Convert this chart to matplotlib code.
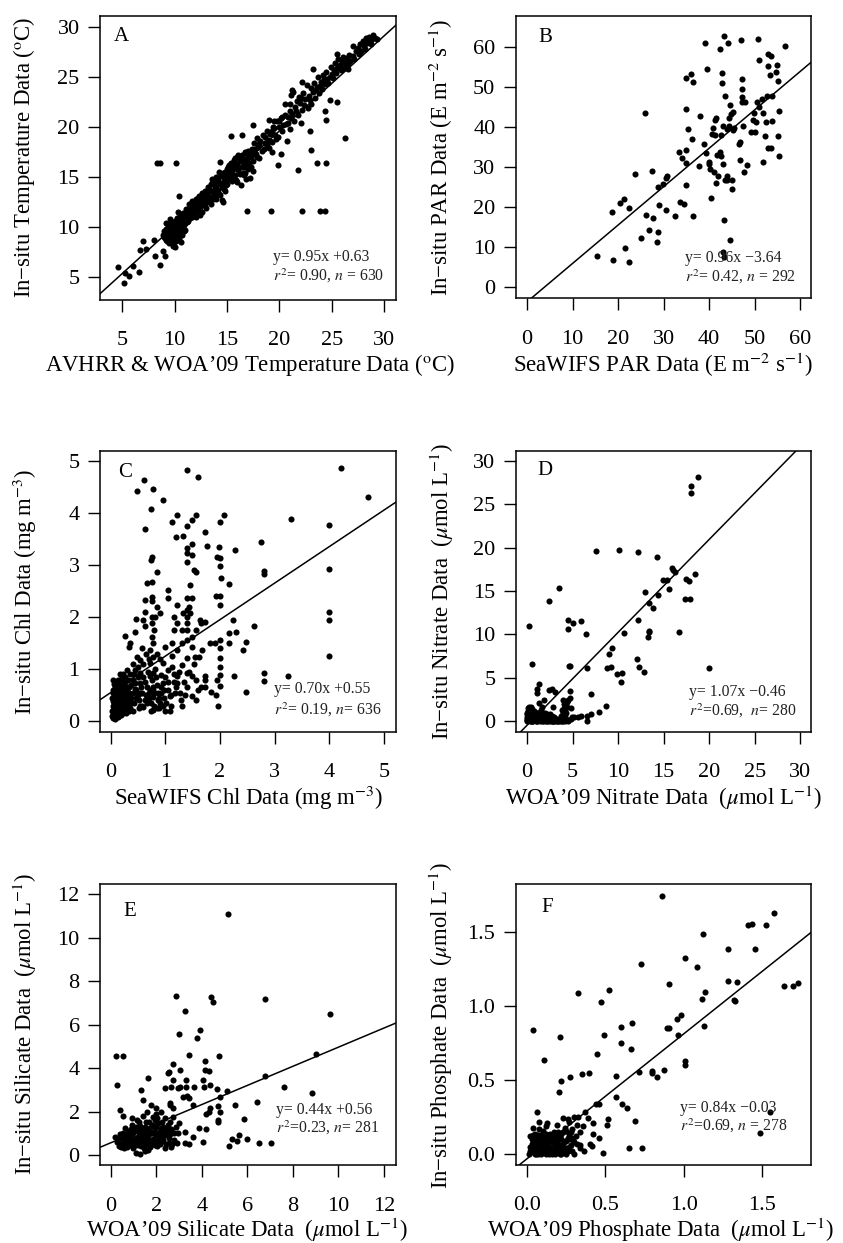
import matplotlib
matplotlib.use("Agg")
import matplotlib.pyplot as plt
import numpy as np

plt.rcParams['font.family'] = ['Liberation Serif', 'DejaVu Serif']
plt.rcParams['mathtext.fontset'] = 'stix'

# ---------------- data ----------------
# A: temperature, (satellite/WOA, in-situ)
temp_pts = [
    (4.6, 6.07), (5.2, 4.4), (5.25, 5.4), (5.6, 5.1), (6.05, 6.1), (6.6, 5.5), (6.7, 7.7),
    (7.0, 8.6), (7.3, 7.8), (8.0, 8.7), (8.15, 7.1), (8.6, 6.2), (8.3, 16.4), (8.6, 16.4),
    (10.1, 16.4), (10.4, 13.1), (8.85, 7.6), (9.1, 7.1), (16.9, 11.6), (19.2, 11.6),
    (22.2, 11.6), (23.9, 11.6), (24.4, 11.6), (21.8, 15.7), (19.9, 16.2), (23.6, 16.4),
    (24.5, 16.4), (23.0, 17.7), (26.3, 18.9), (24.5, 20.7), (24.4, 21.6), (24.8, 22.7),
    (25.5, 22.5), (22.9, 19.6), (22.1, 20.4), (20.2, 17.3), (19.3, 17.5), (17.5, 20.2),
    (15.4, 19.1), (16.4, 19.2), (19.0, 20.7), (19.5, 20.6), (23.25, 25.8), (22.2, 24.5),
    (21.2, 23.7), (21.1, 23.2), (25.5, 27.3), (27.0, 28.1), (26.6, 25.8),
    (8.9, 9.2), (9.0, 9.6), (9.1, 8.9), (9.2, 9.8), (9.3, 9.3), (9.3, 8.6), (9.4, 10.2),
    (9.5, 9.0), (9.5, 8.4), (9.6, 9.7), (9.7, 8.9), (9.7, 10.4), (9.8, 8.1), (9.8, 9.4),
    (9.9, 10.0), (10.0, 8.0), (10.0, 9.2), (10.0, 10.6), (10.1, 8.6), (10.2, 9.8),
    (10.2, 10.9), (10.3, 9.1), (10.4, 10.3), (10.4, 8.8), (10.5, 11.1), (10.5, 9.6),
    (10.6, 10.0), (10.7, 10.7), (10.7, 9.2), (10.8, 11.4), (10.9, 10.2), (11.0, 9.7),
    (11.0, 11.0), (9.2, 10.4), (9.6, 10.8), (10.3, 11.5), (9.9, 9.1), (10.6, 8.5),
    (11.1, 11.8), (11.2, 10.5), (11.3, 11.2), (11.4, 12.3), (11.5, 10.9), (11.6, 11.6),
    (11.7, 12.6), (11.8, 11.3), (11.9, 12.0), (12.0, 12.8), (12.0, 11.0), (12.1, 12.3),
    (12.2, 11.7), (12.3, 13.1), (12.4, 12.0), (12.5, 12.6), (12.6, 13.4), (12.6, 11.5),
    (12.7, 12.9), (12.8, 12.2), (12.9, 13.6), (13.0, 12.7), (13.0, 11.9), (13.1, 13.2),
    (11.5, 12.0), (12.2, 12.9), (11.9, 11.5), (12.8, 13.0),
    (13.2, 14.0), (13.3, 12.6), (13.4, 13.6), (13.5, 14.3), (13.5, 12.3), (13.6, 13.0),
    (13.7, 14.6), (13.8, 13.4), (13.9, 14.0), (14.0, 15.0), (14.0, 12.8), (14.1, 13.7),
    (14.2, 14.4), (14.3, 16.5), (14.3, 13.2), (14.4, 15.1), (14.5, 14.0), (14.6, 12.5),
    (14.6, 15.4), (14.7, 14.6), (14.8, 13.6), (14.9, 15.2), (15.0, 14.3), (15.0, 15.8),
    (13.6, 14.8), (14.2, 15.5), (13.9, 13.1), (14.5, 12.7), (14.8, 14.9),
    (15.1, 16.0), (15.2, 14.8), (15.3, 15.5), (15.4, 16.4), (15.5, 14.6), (15.6, 15.9),
    (15.7, 16.7), (15.8, 15.2), (15.9, 16.3), (16.0, 17.0), (16.0, 14.5), (16.1, 15.7),
    (16.2, 16.6), (16.3, 14.2), (16.4, 17.2), (16.5, 15.4), (16.6, 16.0), (16.7, 17.5),
    (16.8, 14.8), (16.9, 16.8), (17.0, 17.6), (17.0, 15.8), (17.1, 16.4), (17.2, 14.9),
    (17.3, 17.0), (15.5, 15.3), (16.3, 16.9), (16.7, 15.4), (17.5, 15.6), (15.8, 16.9),
    (17.4, 17.8), (17.5, 16.6), (17.6, 18.4), (17.8, 17.3), (17.9, 18.9), (18.0, 18.0),
    (18.1, 16.9), (18.2, 18.6), (18.4, 19.2), (18.5, 17.8), (18.6, 18.4), (18.8, 19.6),
    (18.9, 18.7), (19.0, 17.9), (19.1, 19.3),
    (19.3, 18.5), (19.4, 20.0), (19.6, 19.2), (19.8, 20.6), (19.9, 19.0), (20.0, 20.0),
    (20.2, 20.9), (20.3, 19.6), (20.5, 21.2), (20.6, 20.3), (20.7, 18.6), (20.8, 21.0),
    (21.0, 19.8), (21.0, 22.3), (20.3, 21.0), (20.5, 22.3), (21.0, 21.6),
    (21.2, 21.3), (21.3, 23.5), (21.4, 20.6), (21.5, 22.0), (21.7, 22.6), (21.8, 21.2),
    (21.9, 23.0), (22.0, 22.4), (22.2, 21.7), (22.3, 23.4), (22.5, 22.8), (22.6, 24.2),
    (22.7, 21.9), (22.8, 23.1), (23.0, 23.9), (23.0, 22.3),
    (23.2, 23.5), (23.3, 24.4), (23.4, 22.9), (23.6, 24.0), (23.7, 25.0), (23.8, 23.4),
    (24.0, 24.5), (24.1, 23.8), (24.2, 25.2), (24.4, 24.3), (24.5, 25.5), (24.6, 24.8),
    (24.8, 25.0), (24.9, 26.0), (25.0, 25.3),
    (25.2, 25.7), (25.3, 26.4), (25.5, 25.9), (25.6, 26.8), (25.8, 26.2), (26.0, 26.6),
    (26.1, 27.0), (26.3, 26.4), (26.5, 26.9), (26.7, 27.2), (26.8, 26.6), (27.0, 27.1),
    (27.3, 27.6), (27.5, 27.9), (27.7, 28.3), (27.8, 27.6), (28.0, 28.6), (28.1, 28.1),
    (28.3, 28.9), (28.4, 28.4), (28.6, 29.0), (28.7, 28.6), (28.9, 28.8), (29.1, 28.9),
    (29.3, 28.8),
    (9.0, 9.0), (9.1, 9.5), (9.2, 8.7), (9.4, 9.5), (9.5, 10.0), (9.6, 8.6), (9.7, 9.3),
    (9.8, 10.1), (9.9, 8.5), (10.0, 9.6), (10.1, 10.3), (10.2, 9.3), (10.3, 10.0),
    (10.4, 9.5), (10.5, 10.5), (10.6, 9.4), (10.7, 10.2), (10.8, 10.8), (10.9, 9.6),
    (11.0, 10.4), (11.1, 11.2), (11.2, 11.6), (11.3, 10.6), (11.4, 11.5), (11.6, 12.1),
    (11.7, 11.0), (11.8, 12.2), (12.0, 11.6), (12.1, 12.7), (12.3, 12.4), (12.4, 11.2),
    (12.5, 13.0), (12.7, 12.4), (12.9, 12.4), (13.0, 13.4), (13.1, 12.5), (13.3, 13.8),
    (13.4, 13.0), (13.6, 13.6), (13.7, 12.8), (13.8, 14.3), (14.0, 13.9), (14.1, 14.7),
    (14.2, 13.3), (14.4, 14.3), (14.5, 15.2), (14.7, 13.8), (14.8, 15.5), (14.9, 14.2),
    (15.1, 15.3), (15.2, 16.2), (15.3, 14.9), (15.4, 15.8), (15.6, 14.9), (15.6, 16.4),
    (15.8, 16.0), (15.9, 14.7), (16.0, 16.3), (16.1, 17.2), (16.2, 15.3), (16.4, 16.0),
    (16.5, 16.8), (16.6, 15.2), (16.7, 16.4), (16.9, 17.3), (17.0, 16.2), (17.2, 17.4),
    (17.3, 16.0), (17.5, 17.3), (17.7, 17.8), (17.9, 17.0), (18.1, 18.3), (18.3, 17.6),
    (18.6, 19.0), (18.8, 18.2), (19.1, 18.6), (19.3, 19.6), (19.5, 19.9), (19.7, 18.8),
    (20.0, 20.6), (20.4, 20.2), (20.8, 20.4), (21.1, 20.9), (21.6, 21.6), (22.1, 22.9),
    (22.4, 22.2), (22.9, 22.7), (23.5, 23.7), (23.9, 24.1), (24.3, 24.8), (24.7, 24.4),
    (25.1, 24.9), (25.4, 25.4), (25.9, 25.7), (26.2, 25.9), (26.6, 26.3), (27.1, 26.8),
    (27.6, 27.3), (28.2, 27.8), (28.8, 28.3), (29.0, 29.2),
]

# B: PAR
par_pts = [
    (15.3, 7.8), (18.6, 18.7), (18.8, 6.8), (20.4, 21.0), (21.4, 22.1), (21.6, 9.75),
    (22.5, 19.75), (22.4, 6.2), (23.8, 28.3), (25.1, 12.25), (26.0, 43.6), (26.1, 18.1),
    (26.8, 14.3), (27.4, 29.1), (27.7, 17.25), (28.7, 25.0), (28.7, 13.75), (28.6, 11.2),
    (29.0, 20.6), (29.9, 25.8), (30.5, 27.25), (30.7, 27.9), (30.6, 19.3), (32.6, 17.7),
    (33.4, 33.75), (34.0, 32.25), (33.7, 21.3), (34.4, 20.8), (34.8, 31.1), (35.0, 34.2),
    (34.9, 25.6), (34.9, 52.3), (34.9, 44.6), (35.4, 39.6), (36.0, 53.4), (36.4, 51.4),
    (36.2, 37.1), (36.5, 17.8), (37.8, 30.25), (37.9, 42.75), (38.8, 35.7), (39.1, 61.1),
    (39.4, 33.5), (39.6, 54.6), (39.9, 31.4), (40.1, 29.6), (39.9, 30.8), (40.4, 22.4),
    (40.7, 38.2), (40.9, 39.8), (41.2, 38.1), (41.3, 41.9), (41.5, 42.25), (41.4, 26.0),
    (41.1, 28.9), (41.8, 33.1), (42.0, 27.9), (42.3, 33.7), (42.4, 59.6), (42.6, 32.75),
    (42.8, 53.5), (42.9, 51.0), (42.7, 38.1), (43.0, 40.4), (43.0, 8.75), (43.1, 30.7),
    (43.3, 62.8), (43.3, 16.7), (43.5, 26.8), (43.5, 47.7), (43.8, 39.5), (43.8, 27.9),
    (43.9, 26.8), (44.2, 61.1), (44.4, 42.4), (44.4, 40.4), (44.5, 11.8), (44.6, 45.5),
    (44.8, 43.25), (44.9, 24.5), (45.0, 26.75), (45.2, 43.7), (45.3, 39.3), (45.4, 39.8),
    (46.6, 35.75), (46.8, 36.4), (46.7, 31.8), (46.9, 61.7), (47.1, 47.6), (47.3, 52.1),
    (47.3, 49.5), (47.3, 46.3), (47.5, 40.3), (47.6, 28.75), (47.8, 46.4), (48.2, 30.6),
    (49.1, 38.7), (49.7, 41.8), (49.8, 43.5), (50.1, 38.75), (50.3, 41.4), (50.6, 46.4),
    (50.8, 62.1), (51.0, 56.75), (51.0, 45.0), (51.5, 47.1), (51.9, 31.2), (51.9, 43.5),
    (52.2, 37.8), (52.4, 41.4), (52.8, 47.7), (53.0, 55.2), (53.0, 58.25), (53.0, 34.9),
    (53.3, 53.0), (53.5, 57.7), (53.5, 34.75), (53.7, 41.6), (53.8, 47.7), (54.6, 53.75),
    (54.8, 55.5), (55.2, 51.6), (55.2, 37.8), (55.3, 44.1), (55.4, 32.7), (56.6, 60.2),
    (43.2, 7.6),
]

# C: chlorophyll
chl_pts = [
    (0.49, 4.42), (0.61, 4.63), (0.78, 4.46), (0.96, 4.25), (0.73, 4.07), (0.62, 3.69),
    (1.40, 4.82), (1.59, 4.69), (1.13, 3.82), (1.22, 3.96), (1.39, 3.75), (1.48, 3.86),
    (1.56, 3.96), (1.20, 3.54), (1.33, 3.55), (1.73, 3.63), (1.77, 3.36), (1.39, 3.32),
    (1.39, 3.22), (1.48, 3.41), (1.39, 3.06), (1.48, 3.19), (1.52, 2.9), (1.56, 2.87),
    (1.46, 2.62), (1.99, 3.35), (2.0, 3.13), (2.0, 2.97), (2.02, 2.74), (1.94, 3.15),
    (2.07, 3.95), (2.0, 3.82), (2.27, 3.28), (2.17, 2.63), (1.93, 2.41), (2.0, 2.41),
    (2.0, 2.24), (2.24, 1.94), (2.17, 1.69), (2.30, 1.72), (2.16, 1.5), (2.48, 1.53),
    (2.43, 1.37), (2.62, 1.83), (2.75, 3.43), (2.80, 2.89), (2.80, 2.83), (2.80, 0.93),
    (2.80, 0.78), (3.30, 3.88), (3.24, 0.86), (4.0, 3.77), (4.0, 2.92), (4.0, 2.10),
    (4.0, 1.94), (4.0, 1.26), (4.22, 4.85), (4.71, 4.31), (2.48, 0.57), (2.26, 0.87),
    (1.97, 0.29), (2.01, 0.68), (1.94, 0.79), (1.93, 0.51), (1.84, 0.57), (2.0, 0.88),
    (2.0, 1.05), (2.0, 1.21), (2.0, 1.4), (2.0, 1.56), (1.91, 1.51), (1.82, 1.5),
    (1.73, 0.87), (1.73, 0.79), (1.73, 0.66), (1.66, 0.66), (1.57, 0.79), (1.57, 0.41),
    (1.48, 0.49), (1.48, 0.86), (1.55, 1.24), (1.62, 1.24), (1.67, 1.37), (1.66, 1.88),
    (1.63, 1.94), (1.73, 1.91), (1.57, 1.75), (1.48, 1.43), (1.48, 1.62), (1.46, 2.07),
    (1.44, 2.2), (1.48, 2.36), (1.39, 2.36), (1.39, 2.14), (1.39, 2.0), (1.39, 1.88),
    (1.39, 1.75), (1.39, 1.56), (1.39, 1.21), (1.39, 0.92), (1.39, 0.66), (1.32, 2.07),
    (1.30, 1.75), (1.30, 1.5), (1.30, 1.08), (1.21, 2.23), (1.21, 1.88), (1.21, 1.37),
    (1.21, 0.86), (1.21, 0.73), (1.15, 2.0), (1.15, 1.75), (1.13, 1.5), (1.13, 1.05),
    (1.15, 0.76), (1.05, 2.36), (1.05, 2.52), (1.05, 0.98), (1.05, 0.6), (1.02, 0.35),
    (1.09, 0.19), (0.99, 1.43), (0.96, 1.11), (0.96, 0.73), (0.93, 0.54), (0.87, 0.41),
    (0.90, 2.07), (0.84, 2.2), (0.84, 2.86), (0.81, 2.0), (0.80, 1.75), (0.78, 1.5),
    (0.78, 1.24), (0.78, 0.92), (0.78, 0.66), (0.78, 0.47), (0.78, 0.22), (0.75, 3.16),
    (0.73, 3.09), (0.75, 2.68), (0.75, 2.38), (0.75, 2.3), (0.75, 2.0), (0.75, 1.88),
    (0.75, 1.62), (0.72, 1.37), (0.72, 1.11), (0.72, 0.86), (0.72, 0.6), (0.69, 0.41),
    (0.66, 2.65), (0.63, 2.33), (0.63, 2.1), (0.63, 1.82), (0.60, 1.94), (0.57, 1.4),
    (0.54, 1.18), (0.54, 0.92), (0.54, 0.73), (0.54, 0.54), (0.46, 1.96), (0.45, 1.71),
    (0.48, 1.24), (0.45, 0.98), (0.45, 0.73), (0.41, 0.54), (0.38, 0.35), (0.35, 1.5),
    (0.34, 1.42), (0.27, 1.64), (0.29, 0.98), (0.32, 0.79), (0.29, 0.6), (0.29, 0.41),
    (0.26, 0.22), (0.20, 0.86), (0.22, 0.66), (0.20, 0.47), (0.22, 0.28), (0.14, 0.79),
    (0.14, 0.6), (0.14, 0.41), (0.14, 0.22), (0.14, 0.09), (0.08, 0.66), (0.08, 0.47),
    (0.08, 0.28), (0.08, 0.12), (0.05, 0.06), (0.05, 0.54), (0.05, 0.38), (0.05, 0.22),
    (0.11, 0.35), (0.11, 0.19), (0.17, 0.35), (0.17, 0.12), (0.23, 0.41), (0.23, 0.15),
    (0.35, 0.22), (0.41, 0.19), (0.51, 0.25), (0.60, 0.28), (0.66, 0.35), (0.84, 0.25),
    (0.90, 0.35), (0.03, 0.1), (0.04, 0.3), (0.06, 0.45), (0.07, 0.2), (0.09, 0.55),
    (0.10, 0.08), (0.12, 0.5), (0.13, 0.3), (0.15, 0.7), (0.16, 0.18), (0.18, 0.55),
    (0.19, 0.25), (0.21, 0.78), (0.24, 0.55), (0.25, 0.35), (0.27, 0.85), (0.30, 0.3),
    (0.31, 0.5), (0.33, 0.65), (0.36, 0.9), (0.37, 0.45), (0.40, 0.8), (0.42, 0.35),
    (0.44, 0.62), (0.47, 0.45), (0.50, 0.85), (0.52, 0.4), (0.56, 0.65), (0.58, 0.3),
    (0.62, 0.75), (0.65, 0.5), (0.68, 0.95), (0.70, 0.55), (0.74, 0.35), (0.76, 0.8),
    (0.80, 0.55), (0.82, 1.0), (0.85, 0.7), (0.88, 0.45), (0.92, 0.88), (0.95, 0.3),
    (0.98, 0.6), (1.00, 0.85), (1.08, 0.48), (1.11, 0.3), (1.18, 0.55), (1.25, 0.95),
    (1.28, 0.4), (1.35, 0.75), (1.44, 0.95), (1.52, 1.1), (1.6, 0.6), (1.12, 1.25),
    (0.06, 0.15), (0.09, 0.38), (0.12, 0.62), (0.16, 0.45), (0.19, 0.12), (0.28, 0.15),
    (0.33, 0.2), (0.03, 0.45), (0.07, 0.72), (0.1, 0.25), (0.18, 0.9), (0.25, 0.62),
    (0.03, 0.2), (0.04, 0.6), (0.05, 0.8), (0.06, 0.35), (0.07, 0.55), (0.08, 0.05),
    (0.09, 0.7), (0.1, 0.45), (0.11, 0.6), (0.12, 0.15), (0.13, 0.75), (0.14, 0.5),
    (0.15, 0.3), (0.16, 0.6), (0.17, 0.8), (0.18, 0.4), (0.19, 0.65), (0.2, 0.2),
    (0.21, 0.5), (0.22, 0.9), (0.23, 0.7), (0.24, 0.3), (0.25, 0.5), (0.26, 0.75),
    (0.28, 0.45), (0.3, 0.65), (0.32, 0.35), (0.34, 0.55), (0.36, 0.25), (0.38, 0.7),
    (0.04, 0.12), (0.06, 0.25), (0.08, 0.4), (0.1, 0.68), (0.12, 0.38), (0.15, 0.15),
    (0.18, 0.25), (0.2, 0.7), (0.22, 0.42), (0.26, 0.28), (0.43, 0.9), (0.46, 0.6),
    (0.5, 0.5), (0.53, 0.3), (0.58, 0.55), (0.6, 0.85), (0.63, 0.4), (0.67, 0.65),
    (0.71, 0.45), (0.73, 0.2), (0.77, 0.6), (0.8, 0.3), (0.83, 0.85), (0.86, 0.55),
    (0.89, 0.25), (0.92, 0.65), (0.97, 0.45), (1.0, 0.2), (1.05, 0.75), (1.1, 0.5),
    (1.16, 0.9), (1.2, 0.65), (1.26, 0.55), (1.3, 0.3), (1.36, 0.5), (0.6, 1.1),
    (0.65, 1.3), (0.7, 1.2), (0.85, 1.3), (0.9, 1.2), (0.4, 1.1), (0.5, 1.05),
]

# D: nitrate
nit_pts = [
    (0.18, 11.0), (0.55, 6.56), (1.35, 4.33), (1.13, 3.68), (1.13, 3.22), (2.38, 13.85),
    (3.48, 15.3), (2.38, 3.6), (2.71, 3.76), (3.11, 3.41), (1.87, 2.42), (1.32, 2.15),
    (2.89, 1.61), (4.46, 11.66), (4.54, 10.63), (5.0, 11.28), (5.89, 11.5), (6.48, 10.05),
    (4.57, 6.33), (4.68, 6.4), (6.55, 6.18), (4.76, 3.49), (4.76, 2.72), (3.99, 2.42),
    (4.06, 2.03), (4.35, 1.69), (4.1, 1.5), (4.79, 1.57), (3.88, 1.3), (6.99, 3.15),
    (7.54, 19.64), (10.13, 19.72), (12.18, 19.45), (14.31, 18.95), (9.29, 8.4),
    (9.04, 7.71), (8.74, 6.18), (9.2, 6.25), (9.9, 5.45), (10.43, 5.56), (10.35, 4.49),
    (10.65, 10.13), (8.71, 1.76), (7.87, 1.07), (7.02, 0.84), (6.55, 0.58), (6.62, 0.0),
    (5.96, 0.61), (5.63, 0.5), (5.16, 0.54), (4.94, 0.46), (4.79, 0.23), (12.07, 7.13),
    (12.26, 6.25), (12.88, 5.72), (12.22, 11.62), (12.99, 14.88), (13.43, 13.58),
    (13.83, 13.04), (13.35, 10.36), (13.28, 9.7), (14.34, 14.54), (14.97, 16.22),
    (15.33, 16.22), (15.55, 15.23), (15.88, 17.6), (16.06, 17.41), (16.25, 17.22),
    (16.72, 10.24), (17.31, 14.04), (17.89, 14.12), (17.42, 16.42), (17.82, 16.15),
    (18.44, 16.92), (17.97, 26.24), (18.04, 27.04), (18.73, 28.15), (20.01, 6.1),
    (13.4, 10.3),
    (0.0, 0.0), (0.1, 0.1), (0.2, 0.5), (0.3, 1.0), (0.2, 1.7), (0.4, 1.7), (0.5, 0.3),
    (0.6, 0.8), (0.7, 0.0), (0.8, 1.2), (0.9, 0.4), (1.0, 0.0), (1.1, 0.9), (1.2, 0.2),
    (1.3, 0.6), (1.5, 1.3), (1.6, 0.1), (1.7, 0.4), (1.8, 0.0), (1.9, 0.8), (2.0, 0.2),
    (2.2, 0.0), (2.3, 0.5), (2.5, 0.1), (2.7, 0.0), (2.8, 0.3), (3.0, 0.0), (3.2, 0.1),
    (3.4, 0.0), (3.6, 0.2), (3.8, 0.0), (4.0, 0.1), (4.2, 0.5), (4.3, 0.9), (4.0, 0.3),
    (3.9, 1.0), (1.4, 0.0), (0.5, 1.2), (0.3, 0.0), (0.1, 0.6), (0.6, 0.0), (2.0, 1.0),
    (2.5, 0.8), (3.0, 0.5), (0.9, 1.0), (1.7, 1.6), (0.0, 0.5), (0.0, 1.0), (0.1, 1.2),
    (0.4, 0.9), (0.7, 1.0), (0.2, 0.2), (0.4, 0.0), (0.8, 0.3), (1.0, 0.6), (1.2, 1.0),
    (1.5, 0.2), (2.1, 0.6), (2.4, 0.2), (2.6, 0.4), (3.3, 0.3), (3.5, 0.1), (4.2, 0.0),
    (4.4, 2.2), (4.5, 2.5), (4.2, 1.2), (3.7, 0.6), (0.15, 1.5), (0.6, 1.4), (1.1, 0.0),
    (2.9, 0.0), (3.7, 0.0), (0.05, 0.3),
    (0.0, 0.2), (0.05, 0.8), (0.15, 0.35), (0.25, 0.7), (0.35, 0.2), (0.45, 0.55),
    (0.55, 0.0), (0.65, 0.4), (0.75, 0.75), (0.85, 0.1), (0.95, 0.6), (1.05, 0.3),
    (1.15, 0.0), (1.25, 0.8), (1.35, 0.4), (1.45, 0.1), (1.55, 0.6), (1.65, 0.0),
    (1.75, 0.25), (1.85, 0.5), (1.95, 0.0), (2.05, 0.35), (2.15, 0.1), (2.25, 0.0),
    (2.35, 0.25), (2.45, 0.0), (2.55, 0.15), (2.65, 0.0), (2.75, 0.1), (2.85, 0.0),
    (3.05, 0.1), (3.15, 0.0), (3.25, 0.05), (3.45, 0.1), (3.55, 0.0), (3.75, 0.1),
    (3.95, 0.0), (4.1, 0.2), (4.3, 0.3), (4.45, 0.0), (0.1, 0.9), (0.2, 1.0), (0.3, 0.8),
    (0.5, 0.95), (0.7, 0.85), (1.0, 1.0), (1.2, 0.6), (1.4, 0.9), (0.8, 0.6), (2.2, 0.8),
    (2.7, 0.6), (3.1, 0.3),
]

# E: silicate
sil_pts = [
    (5.17, 11.09), (2.85, 7.32), (4.42, 7.29), (4.51, 7.03), (6.79, 7.18), (9.63, 6.51),
    (3.26, 6.61), (3.0, 5.59), (3.94, 5.74), (3.8, 5.4), (0.23, 4.57), (0.56, 4.57),
    (3.44, 4.62), (4.74, 4.54), (9.02, 4.66), (0.28, 3.22), (1.65, 3.53), (2.72, 4.17),
    (2.75, 3.47), (3.06, 3.93), (2.55, 3.81), (2.5, 3.77), (4.16, 4.33), (4.16, 3.9),
    (4.3, 3.88), (4.07, 3.45), (4.12, 3.13), (4.38, 3.22), (3.32, 3.44), (3.67, 3.13),
    (3.29, 3.13), (3.06, 3.13), (2.97, 3.07), (2.37, 3.08), (2.63, 3.13), (3.37, 2.73),
    (3.42, 2.61), (3.16, 2.69), (4.68, 3.02), (5.09, 2.95), (4.81, 2.67), (6.79, 3.65),
    (7.61, 3.15), (8.85, 2.84), (6.44, 2.42), (5.47, 2.29), (5.87, 1.64), (4.38, 2.18),
    (4.2, 1.9), (4.33, 1.99), (4.73, 2.24), (4.8, 1.99), (4.7, 1.61), (4.7, 1.53),
    (3.89, 1.23), (4.2, 1.18), (3.6, 2.3), (2.59, 2.41), (2.61, 2.29), (2.74, 2.18),
    (2.99, 1.46), (3.26, 1.07), (3.6, 0.84), (4.05, 0.61), (3.45, 0.51), (3.25, 0.54),
    (5.33, 0.74), (5.62, 0.92), (5.56, 0.64), (5.97, 0.74), (6.5, 0.54), (7.05, 0.54),
    (5.18, 0.41), (0.42, 2.07), (0.56, 1.81), (1.33, 2.98), (1.4, 2.53), (1.77, 2.3),
    (1.99, 2.15),
    (0.2, 0.85), (0.35, 0.4), (0.45, 0.35), (0.5, 0.8), (0.55, 1.0), (0.6, 0.5),
    (0.65, 1.25), (0.7, 0.35), (0.75, 0.7), (0.8, 1.1), (0.85, 0.45), (0.9, 0.9),
    (0.95, 1.4), (1.0, 0.3), (1.0, 0.65), (1.05, 1.15), (1.1, 0.1), (1.1, 0.8),
    (1.15, 1.6), (1.2, 0.45), (1.25, 1.0), (1.3, 0.05), (1.3, 1.35), (1.35, 0.6),
    (1.4, 1.8), (1.45, 0.3), (1.45, 0.95), (1.5, 1.3), (1.55, 0.5), (1.6, 1.1),
    (1.6, 2.0), (1.65, 0.75), (1.7, 1.5), (1.75, 0.35), (1.8, 1.0), (1.85, 1.75),
    (1.9, 0.6), (1.95, 1.25), (2.0, 0.9), (2.0, 1.9), (2.05, 0.4), (2.1, 1.45),
    (2.15, 1.05), (2.2, 2.0), (2.25, 0.65), (2.3, 1.3), (2.35, 0.9), (2.4, 1.7),
    (2.45, 0.5), (2.5, 1.15), (2.55, 0.8), (2.6, 1.5), (2.65, 0.35), (2.7, 1.05),
    (2.75, 1.75), (2.8, 0.7), (2.9, 0.55), (2.95, 1.0), (0.9, 0.55), (1.2, 0.85),
    (1.5, 0.2), (1.7, 0.95), (1.85, 1.35), (2.1, 0.7), (2.3, 1.1), (0.7, 0.9),
    (0.4, 0.8), (1.05, 0.45), (1.35, 1.15), (1.95, 1.6), (2.2, 1.25), (2.6, 0.95),
    (1.25, 1.5), (0.95, 1.7), (0.55, 0.4), (2.4, 0.3), (1.65, 0.25), (2.85, 1.3),
    (0.3, 0.6), (0.4, 0.95), (0.5, 0.55), (0.6, 0.3), (0.65, 0.75), (0.75, 1.0),
    (0.8, 0.5), (0.85, 0.8), (0.9, 1.2), (0.95, 0.6), (1.0, 1.0), (1.05, 0.75),
    (1.1, 1.3), (1.15, 0.5), (1.2, 1.1), (1.25, 0.7), (1.3, 0.95), (1.35, 0.4),
    (1.4, 1.2), (1.45, 0.65), (1.5, 1.0), (1.55, 1.5), (1.6, 0.8), (1.65, 1.2),
    (1.7, 0.5), (1.75, 1.1), (1.8, 1.4), (1.85, 0.75), (1.9, 1.0), (1.95, 0.45),
    (2.0, 1.3), (2.05, 1.7), (2.1, 1.0), (2.15, 0.5), (2.2, 0.85), (2.25, 1.5),
    (2.3, 0.7), (2.35, 1.2), (2.4, 0.9), (2.5, 1.4), (2.55, 0.55), (2.65, 1.2),
    (2.7, 0.5), (2.8, 1.0), (0.6, 0.7), (1.0, 0.45), (1.4, 0.85), (1.8, 0.55),
    (2.0, 0.6), (2.45, 1.05),
]

# F: phosphate
phos_pts = [
    (0.865, 1.736), (1.579, 1.624), (1.528, 1.547), (1.411, 1.543), (1.436, 1.552),
    (1.127, 1.48), (1.285, 1.381), (1.457, 1.381), (1.01, 1.32), (1.085, 1.264),
    (0.729, 1.28), (0.526, 1.103), (0.324, 1.085), (0.473, 1.024), (0.908, 1.148),
    (1.281, 1.17), (1.34, 1.157), (1.138, 1.096), (1.117, 1.049), (1.323, 1.04),
    (1.33, 1.031), (1.639, 1.13), (1.696, 1.13), (1.728, 1.152), (0.982, 0.936),
    (0.957, 0.909), (0.893, 0.849), (0.91, 0.849), (0.963, 0.804), (1.129, 0.862),
    (0.671, 0.887), (0.603, 0.858), (0.492, 0.8), (0.04, 0.838), (0.209, 0.788),
    (0.603, 0.752), (0.663, 0.71), (0.111, 0.638), (0.445, 0.678), (1.01, 0.629),
    (1.01, 0.602), (0.569, 0.53), (0.716, 0.552), (0.799, 0.561), (0.801, 0.546),
    (0.829, 0.519), (0.878, 0.57), (0.398, 0.55), (0.354, 0.539), (0.277, 0.519),
    (0.215, 0.494), (0.207, 0.42), (0.569, 0.389), (0.607, 0.339), (0.639, 0.31),
    (0.441, 0.339), (0.46, 0.339), (0.69, 0.227), (0.518, 0.236), (0.509, 0.198),
    (0.46, 0.108), (0.416, 0.056), (0.484, 0.007), (0.654, 0.043), (0.737, 0.043),
    (1.489, 0.146), (1.553, 0.287), (0.066, 0.287), (0.079, 0.22), (0.13, 0.209),
    (0.373, 0.287), (0.328, 0.254), (0.392, 0.243), (0.424, 0.209), (0.358, 0.191),
    (0.339, 0.153), (0.424, 0.137), (0.403, 0.07), (0.339, 0.063), (0.364, 0.025),
    (0.296, 0.097), (0.286, 0.168), (0.264, 0.236), (0.232, 0.243),
    (0.01, 0.0), (0.02, 0.05), (0.03, 0.1), (0.04, 0.02), (0.05, 0.14), (0.06, 0.07),
    (0.07, 0.0), (0.08, 0.11), (0.09, 0.04), (0.1, 0.16), (0.11, 0.08), (0.12, 0.0),
    (0.13, 0.13), (0.14, 0.05), (0.15, 0.1), (0.16, 0.0), (0.17, 0.15), (0.18, 0.06),
    (0.19, 0.2), (0.2, 0.1), (0.21, 0.02), (0.22, 0.14), (0.23, 0.07), (0.24, 0.18),
    (0.25, 0.0), (0.26, 0.11), (0.27, 0.05), (0.28, 0.15), (0.3, 0.08), (0.32, 0.2),
    (0.02, 0.12), (0.04, 0.08), (0.06, 0.0), (0.08, 0.04), (0.1, 0.06), (0.12, 0.1),
    (0.14, 0.0), (0.16, 0.08), (0.18, 0.12), (0.2, 0.04), (0.22, 0.0), (0.24, 0.09),
    (0.03, 0.04), (0.05, 0.09), (0.07, 0.13), (0.09, 0.0), (0.11, 0.03), (0.13, 0.07),
    (0.15, 0.04), (0.17, 0.02), (0.19, 0.09), (0.21, 0.12), (0.23, 0.03), (0.25, 0.16),
    (0.27, 0.1), (0.29, 0.02), (0.31, 0.12), (0.34, 0.04), (0.08, 0.17), (0.12, 0.19),
    (0.27, 0.22), (0.3, 0.25), (0.05, 0.04), (0.18, 0.0),
    (0.02, 0.02), (0.03, 0.07), (0.04, 0.13), (0.05, 0.0), (0.06, 0.1), (0.07, 0.05),
    (0.08, 0.08), (0.09, 0.13), (0.1, 0.02), (0.11, 0.11), (0.12, 0.05), (0.13, 0.01),
    (0.14, 0.09), (0.15, 0.14), (0.16, 0.04), (0.17, 0.09), (0.18, 0.03), (0.19, 0.14),
    (0.2, 0.07), (0.21, 0.0), (0.22, 0.1), (0.23, 0.15), (0.24, 0.04), (0.25, 0.09),
    (0.26, 0.02), (0.27, 0.14), (0.28, 0.06), (0.29, 0.11), (0.3, 0.0), (0.32, 0.07),
    (0.04, 0.18), (0.1, 0.1), (0.16, 0.12), (0.2, 0.15), (0.06, 0.04), (0.14, 0.03),
    (0.08, 0.02), (0.12, 0.14), (0.18, 0.07), (0.22, 0.05),
]

# fit lines: slope, intercept
fit_slope = [0.95, 0.96, 0.70, 1.07, 0.44, 0.84]
fit_icept = [0.63, -3.64, 0.55, -0.46, 0.56, -0.03]

panel_letters = ["A", "B", "C", "D", "E", "F"]
fit_texts = [
    ("y= 0.95x +0.63", r"$r^2$= 0.90, $n$ = 630"),
    ("y= 0.96x \u22123.64", r"$r^2$= 0.42, $n$ = 292"),
    ("y= 0.70x +0.55", r"$r^2$= 0.19, $n$= 636"),
    ("y= 1.07x \u22120.46", r"$r^2$=0.69,  $n$= 280"),
    ("y= 0.44x +0.56", r"$r^2$=0.23, $n$= 281"),
    ("y= 0.84x \u22120.03", r"$r^2$=0.69, $n$ = 278"),
]
x_labels = [
    r"AVHRR & WOA’09 Temperature Data ($^{\rm o}$C)",
    r"SeaWIFS PAR Data (E m$^{-2}$ s$^{-1}$)",
    r"SeaWIFS Chl Data (mg m$^{-3}$)",
    r"WOA’09 Nitrate Data  ($\mu$mol L$^{-1}$)",
    r"WOA’09 Silicate Data  ($\mu$mol L$^{-1}$)",
    r"WOA’09 Phosphate Data  ($\mu$mol L$^{-1}$)",
]
y_labels = [
    r"In−situ Temperature Data ($^{\rm o}$C)",
    r"In−situ PAR Data (E m$^{-2}$ s$^{-1}$)",
    r"In−situ Chl Data (mg m$^{-3}$)",
    r"In−situ Nitrate Data  ($\mu$mol L$^{-1}$)",
    r"In−situ Silicate Data  ($\mu$mol L$^{-1}$)",
    r"In−situ Phosphate Data  ($\mu$mol L$^{-1}$)",
]
ticks = [
    [5, 10, 15, 20, 25, 30],
    [0, 10, 20, 30, 40, 50, 60],
    [0, 1, 2, 3, 4, 5],
    [0, 5, 10, 15, 20, 25, 30],
    [0, 2, 4, 6, 8, 10, 12],
    [0.0, 0.5, 1.0, 1.5],
]
xlims = [(2.87, 31.15), (-2.48, 62.35), (-0.195, 5.216), (-1.24, 31.17), (-0.468, 12.52), (-0.072, 1.814)]
ylims = [(2.73, 31.13), (-2.75, 67.8), (-0.205, 5.19), (-1.23, 31.15), (-0.474, 12.47), (-0.07, 1.82)]

all_pts = [temp_pts, par_pts, chl_pts, nit_pts, sil_pts, phos_pts]

# ---------------- layout (pixels) ----------------
W, H = 843, 1243
fig = plt.figure(figsize=(W / 100, H / 100), dpi=100)

# left, right, top, bottom of each plot box
boxes = [
    (100, 396, 16, 300), (515.7, 811, 16, 298.3),
    (100, 395.7, 450.7, 732), (515.7, 811, 450.7, 732),
    (100, 395.7, 884, 1165.3), (515.7, 811, 884, 1164.7),
]
letter_pos = [(121.7, 36.7), (545, 38), (125, 472.7), (545, 471), (130, 911), (546.7, 908)]
fit_pos = [(273, 257, 276), (685, 258, 277), (274, 689, 710), (689, 692, 711), (276, 1110, 1128), (680, 1108, 1126)]
xlab_pos = [(250, 371), (663, 372), (248, 805), (663, 805), (247, 1237), (661, 1237)]
ylab_pos = [(24, 157), (441, 157), (25, 592), (442, 592), (25, 1024), (441, 1025)]


def fx(px):
    return px / W


def fy(py):
    return 1 - py / H


for i in range(6):
    l, r, t, b = boxes[i]
    ax = fig.add_axes([fx(l), fy(b), (r - l) / W, (b - t) / H])
    pts = np.array(all_pts[i])
    ax.plot(pts[:, 0], pts[:, 1], 'o', color='black', ms=4.4, mew=0)

    ax.set_xlim(xlims[i])
    ax.set_ylim(ylims[i])
    xs = np.array(xlims[i])
    ax.plot(xs, fit_slope[i] * xs + fit_icept[i], color='black', lw=1.1)

    ax.set_xticks(ticks[i])
    ax.set_yticks(ticks[i])
    if i == 5:
        ax.set_xticklabels([f"{v:.1f}" for v in ticks[i]])
        ax.set_yticklabels([f"{v:.1f}" for v in ticks[i]])
    ax.tick_params(direction='out', length=8.6, width=1.0, labelsize=16)
    ax.tick_params(axis='x', pad=14)
    ax.tick_params(axis='y', pad=6)
    for s in ax.spines.values():
        s.set_linewidth(1.1)

    fig.text(fx(letter_pos[i][0]), fy(letter_pos[i][1]), panel_letters[i],
             ha='center', va='center', fontsize=15)
    tx, ty1, ty2 = fit_pos[i]
    fig.text(fx(tx), fy(ty1), fit_texts[i][0], ha='left', va='center', fontsize=11.3, color='#222222')
    fig.text(fx(tx), fy(ty2), fit_texts[i][1], ha='left', va='center', fontsize=11.3, color='#222222')

    fig.text(fx(xlab_pos[i][0]), fy(xlab_pos[i][1]), x_labels[i], ha='center', va='baseline', fontsize=16.4)
    fig.text(fx(ylab_pos[i][0]), fy(ylab_pos[i][1]), y_labels[i], ha='center', va='center',
             rotation=90, fontsize=16.4)

fig.savefig("out.png", dpi=100)
